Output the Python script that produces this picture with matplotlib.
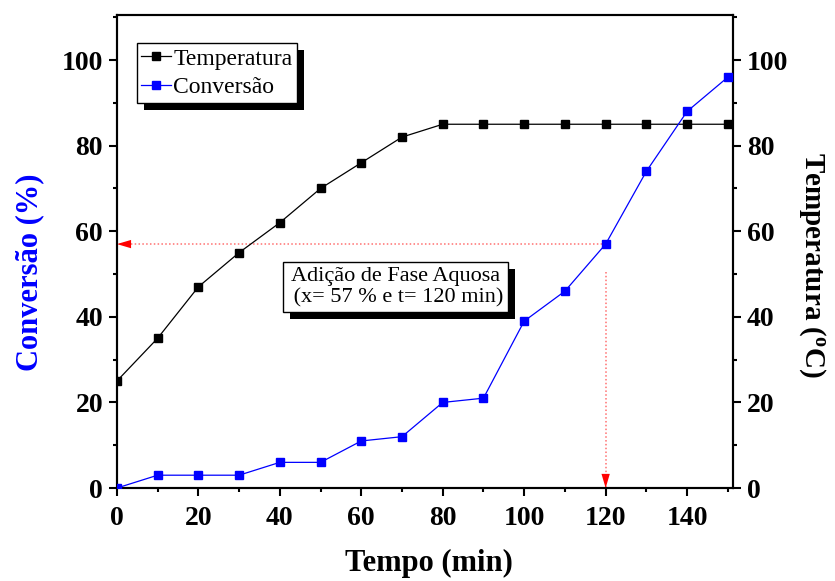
import matplotlib
matplotlib.use("Agg")
import matplotlib.pyplot as plt
from matplotlib.patches import Rectangle
from matplotlib.ticker import MultipleLocator

plt.rcParams['font.family'] = ['Liberation Serif', 'DejaVu Serif']
plt.rcParams['mathtext.fontset'] = 'custom'
plt.rcParams['mathtext.rm'] = 'Liberation Serif'
plt.rcParams['mathtext.bf'] = 'Liberation Serif:bold'

tempo = [0, 10, 20, 30, 40, 50, 60, 70, 80, 90, 100, 110, 120, 130, 140, 150]
temperatura = [25, 35, 47, 55, 62, 70, 76, 82, 85, 85, 85, 85, 85, 85, 85, 85]
conversao = [0, 3, 3, 3, 6, 6, 11, 12, 20, 21, 39, 46, 57, 74, 88, 96]
x_ticks = [0, 20, 40, 60, 80, 100, 120, 140]
y_ticks = [0, 20, 40, 60, 80, 100]
t_add, x_add = 120, 57
v_start = 50.5

fig = plt.figure(figsize=(8.35, 5.81), dpi=100)
ax = fig.add_axes([0.140, 0.160, 0.738, 0.814])

l1, = ax.plot(tempo, temperatura, color='black', lw=0.9, marker='s', ms=5.5,
              label='Temperatura', zorder=3)
l2, = ax.plot(tempo, conversao, color='blue', lw=0.9, marker='s', ms=5.5,
              label='Conversão', zorder=3)

ax.set_xlim(0, 151.3)
ax.set_ylim(0, 110.5)
ax.set_xticks(x_ticks)
ax.set_yticks(y_ticks)
ax.xaxis.set_minor_locator(MultipleLocator(10))
ax.yaxis.set_minor_locator(MultipleLocator(10))
for s in ax.spines.values():
    s.set_linewidth(1.5)
ax.tick_params(which='major', direction='out', length=6, width=1.5, labelsize=20, pad=4)
ax.tick_params(axis='x', which='major', pad=7)
ax.tick_params(which='minor', direction='out', length=3, width=1.5)
for lab in ax.get_xticklabels() + ax.get_yticklabels():
    lab.set_fontweight('bold')

ax.set_xlabel('Tempo (min)', fontsize=22, fontweight='bold')
ax.xaxis.set_label_coords(0.506, -0.128)
ax.set_ylabel('Conversão (%)', fontsize=22, fontweight='bold', color='blue')
ax.yaxis.set_label_coords(-0.118, 0.457)

ax2 = ax.twinx()
ax2.set_ylim(ax.get_ylim())
ax2.set_yticks(y_ticks)
ax2.yaxis.set_minor_locator(MultipleLocator(10))
ax2.tick_params(which='major', direction='out', length=6, width=1.5, labelsize=20, pad=4)
ax2.tick_params(which='minor', direction='out', length=3, width=1.5)
for lab in ax2.get_yticklabels():
    lab.set_fontweight('bold')
for s in ax2.spines.values():
    s.set_linewidth(1.5)
ax2.set_ylabel('Temperatura ($\\mathbf{^{o}}$C)', fontsize=21, fontweight='bold',
               rotation=-90)
ax2.yaxis.set_label_coords(1.154, 0.471)

# dotted guide lines
ax.plot([t_add, 0], [x_add, x_add], color='#ff7070', lw=1.1, ls=(0, (1, 1.5)), zorder=2)
ax.plot([t_add, t_add], [v_start, 0], color='#ff7070', lw=1.1, ls=(0, (1, 1.5)), zorder=2)
# arrowheads
head = dict(arrowstyle='-|>,head_length=0.85,head_width=0.25', color='red', lw=0,
            mutation_scale=12, shrinkA=0, shrinkB=0)
ax.annotate('', xy=(0, x_add), xytext=(4, x_add), arrowprops=head, zorder=2.5,
            annotation_clip=False)
ax.annotate('', xy=(t_add, 0), xytext=(t_add, 4), arrowprops=head, zorder=2.5,
            annotation_clip=False)

txt = ax.text(68.4, 47, 'Adição de Fase Aquosa\n (x= 57 % e t= 120 min)', fontsize=16,
              ha='center', va='center', zorder=6, linespacing=1.15,
              bbox=dict(boxstyle='square,pad=0.2', fc='white', ec='black', lw=1.0))

leg = ax.legend(handles=[l1, l2], loc='upper left', bbox_to_anchor=(0.032, 0.94),
                fontsize=17, frameon=True, fancybox=False, edgecolor='black',
                framealpha=1, borderpad=0.2, handlelength=1.25, handletextpad=0.1,
                labelspacing=0.3, borderaxespad=0)
leg.get_frame().set_linewidth(1.0)
leg.set_zorder(6)
ax.set_zorder(2)
ax.patch.set_visible(False)

fig.canvas.draw()
r = fig.canvas.get_renderer()
off = 7
for art in [leg.get_frame(), txt.get_bbox_patch()]:
    bb = art.get_window_extent(r)
    sh = Rectangle((bb.x0 + off, bb.y0 - off), bb.width, bb.height, transform=None,
                   fc='black', ec='none', zorder=5.5)
    ax.add_artist(sh)

fig.savefig('out.png', dpi=100)
